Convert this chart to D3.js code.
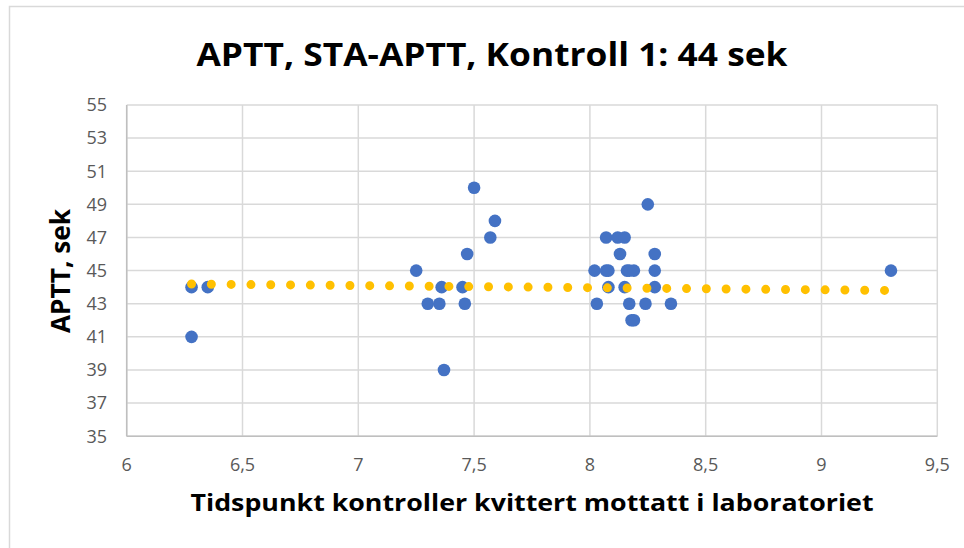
<!DOCTYPE html>
<html>
<head>
    <title>APTT</title>
    <script src="https://d3js.org/d3.v7.min.js"></script>
    <style>
        body { margin: 0; background-color: #fff; }
        svg { display: block; font-family: "Open Sans", "Noto Sans", sans-serif; }
    </style>
</head>
<body>
<svg width="964" height="548"></svg>
<script>
    // measured points: x = time received, y = APTT (sek)
    var timeValues = [6.28, 6.35, 6.28,
        7.25, 7.30, 7.35, 7.36, 7.37, 7.45, 7.46, 7.47, 7.50, 7.57, 7.59,
        8.02, 8.03, 8.07, 8.07, 8.08, 8.08, 8.12, 8.15, 8.13, 8.15, 8.16, 8.17, 8.19,
        8.17, 8.18, 8.19, 8.24, 8.25, 8.28, 8.28, 8.28, 8.35,
        9.30];
    var apttValues = [44, 44, 41,
        45, 43, 43, 44, 39, 44, 43, 46, 50, 47, 48,
        45, 43, 47, 45, 45, 44, 47, 47, 46, 44, 45, 45, 45,
        43, 42, 42, 43, 49, 46, 45, 44, 43,
        45];

    // linear trendline end points
    var trendX = [6.28, 9.30];
    var trendY = [44.19, 43.80];

    var xTicks = [6, 6.5, 7, 7.5, 8, 8.5, 9, 9.5];
    var yTicks = [35, 37, 39, 41, 43, 45, 47, 49, 51, 53, 55];

    var svg = d3.select("svg");
    var width = +svg.attr("width"),
        height = +svg.attr("height");

    var plotLeft = 126.7, plotRight = 937.3, plotTop = 105, plotBottom = 436.2;

    var x = d3.scaleLinear().domain([6, 9.5]).range([plotLeft, plotRight]);
    var y = d3.scaleLinear().domain([35, 55]).range([plotBottom, plotTop]);

    // chart area border
    svg.append("rect")
        .attr("x", 9.5).attr("y", 6.5)
        .attr("width", width).attr("height", height)
        .attr("fill", "#fff")
        .attr("stroke", "#d9d9d9")
        .attr("stroke-width", 1.5);

    // grid
    svg.append("g")
        .attr("stroke", "#d9d9d9")
        .attr("stroke-width", 1.5)
        .selectAll("line")
        .data(yTicks)
        .enter().append("line")
        .attr("x1", plotLeft).attr("x2", plotRight)
        .attr("y1", function (d) { return y(d); })
        .attr("y2", function (d) { return y(d); });

    svg.append("g")
        .attr("stroke", "#d9d9d9")
        .attr("stroke-width", 1.5)
        .selectAll("line")
        .data(xTicks)
        .enter().append("line")
        .attr("y1", plotTop).attr("y2", plotBottom)
        .attr("x1", function (d) { return x(d); })
        .attr("x2", function (d) { return x(d); });

    // axes lines
    svg.append("line")
        .attr("x1", plotLeft).attr("x2", plotRight)
        .attr("y1", plotBottom).attr("y2", plotBottom)
        .attr("stroke", "#bfbfbf").attr("stroke-width", 1.5);
    svg.append("line")
        .attr("x1", plotLeft).attr("x2", plotLeft)
        .attr("y1", plotTop).attr("y2", plotBottom)
        .attr("stroke", "#bfbfbf").attr("stroke-width", 1.5);

    // tick labels
    var fmt = function (d) { return String(d).replace(".", ","); };

    svg.append("g")
        .selectAll("text")
        .data(xTicks)
        .enter().append("text")
        .attr("x", function (d) { return x(d); })
        .attr("y", 471)
        .attr("text-anchor", "middle")
        .attr("font-size", 18)
        .attr("fill", "#595959")
        .text(fmt);

    svg.append("g")
        .selectAll("text")
        .data(yTicks)
        .enter().append("text")
        .attr("x", 107)
        .attr("y", function (d) { return y(d); })
        .attr("dy", "0.35em")
        .attr("text-anchor", "end")
        .attr("font-size", 18)
        .attr("fill", "#595959")
        .text(fmt);

    // points
    svg.append("g")
        .selectAll("circle")
        .data(timeValues)
        .enter().append("circle")
        .attr("cx", function (d) { return x(d); })
        .attr("cy", function (d, i) { return y(apttValues[i]); })
        .attr("r", 6.3)
        .attr("fill", "#4472c4");

    // trendline, round dots
    svg.append("path")
        .datum(d3.zip(trendX, trendY))
        .attr("d", d3.line()
            .x(function (d) { return x(d[0]); })
            .y(function (d) { return y(d[1]); }))
        .attr("fill", "none")
        .attr("stroke", "#ffc000")
        .attr("stroke-width", 9)
        .attr("stroke-linecap", "round")
        .attr("stroke-dasharray", "0 19.8");

    // titles
    svg.append("text")
        .attr("x", 492).attr("y", 66)
        .attr("text-anchor", "middle")
        .attr("font-size", 32)
        .attr("font-weight", "bold")
        .attr("textLength", 591)
        .attr("lengthAdjust", "spacingAndGlyphs")
        .text("APTT, STA-APTT, Kontroll 1: 44 sek");

    svg.append("text")
        .attr("x", 532).attr("y", 511)
        .attr("text-anchor", "middle")
        .attr("font-size", 24)
        .attr("font-weight", "bold")
        .attr("textLength", 683)
        .attr("lengthAdjust", "spacingAndGlyphs")
        .text("Tidspunkt kontroller kvittert mottatt i laboratoriet");

    svg.append("text")
        .attr("transform", "translate(70,271) rotate(-90)")
        .attr("text-anchor", "middle")
        .attr("font-size", 26)
        .attr("font-weight", "bold")
        .attr("textLength", 124)
        .attr("lengthAdjust", "spacingAndGlyphs")
        .text("APTT, sek");
</script>
</body>
</html>
